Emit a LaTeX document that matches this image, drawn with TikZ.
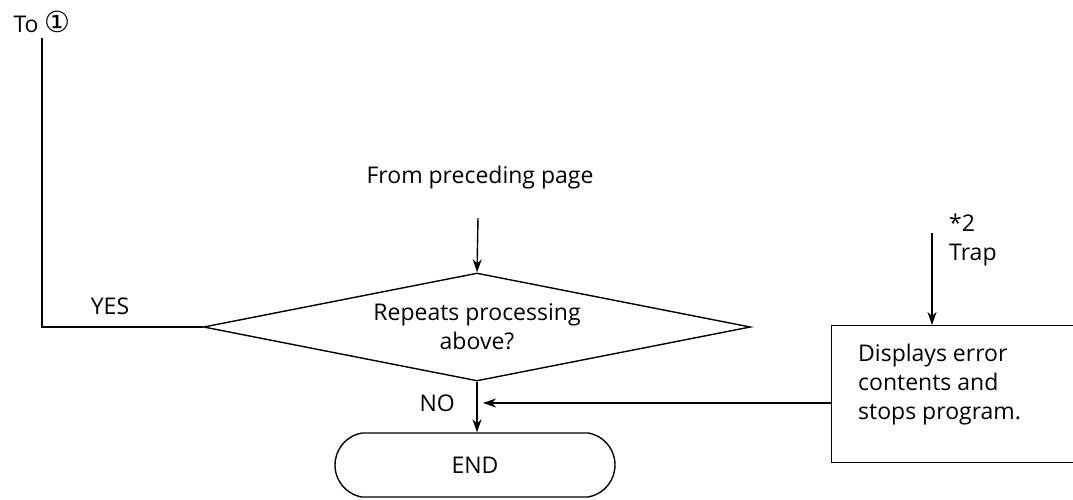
\documentclass[tikz,border=0pt]{standalone}
\usepackage{fontspec}
\setmainfont{Open Sans}
\newfontfamily\simbolos{DejaVu Sans}
\usepackage{tikz}
\usetikzlibrary{shapes.geometric,shapes.misc,arrows.meta,positioning,calc}
\tikzset{
  texto/.style={font=\fontsize{23}{29}\selectfont, inner sep=0pt},
  decisao/.style={diamond, draw, line width=1.4pt, aspect=5, inner sep=0pt,
                  minimum width=547pt, minimum height=108pt,
                  align=center, texto},
  terminal/.style={rounded rectangle, rounded rectangle arc length=160,
                   draw, line width=1.4pt, minimum width=280pt,
                   minimum height=64pt, texto},
  bloco/.style={rectangle, draw, line width=1.4pt, minimum width=290pt,
                minimum height=137pt},
  linha/.style={line width=1.4pt},
  seta/.style={-{Stealth[length=13pt,width=9pt,inset=4pt]}, line width=1.4pt},
}

\begin{document}
\begin{tikzpicture}[x=1pt, y=-1pt]
  \useasboundingbox (0,0) rectangle (1073,499);
  \node[texto] (para) at (42,22) {To {\simbolos\fontsize{29}{29}\selectfont ①}};
  \node[texto] (de) at (480,178) {From preceding page};
  \node[decisao] (dec) at (477,327) {Repeats processing\\above?};
  \node[terminal] (fim) at (475,465) {END};
  \node[bloco, anchor=north west] (erro) at (831,325) {};
  \node[texto, anchor=north west, align=left] (errotxt) at (858,344)
        {Displays error\\contents and\\stops program.};
  \node[texto, anchor=north west, align=left] (trap) at (949,214) {*2\\Trap};
  \node[texto] (sim) at (110,306) {YES};
  \node[texto, anchor=east] (nao) at (455,403) {NO};

  \coordinate (topo) at (42,38);
  \coordinate (ini) at (478,218);
  \coordinate (inierro) at (932,233);
  \coordinate (junta) at (483,403);

  % ramo YES volta para o topo
  \draw[linha] (topo) -- (topo |- dec.west) -- (dec.west);
  \draw[seta] (ini) -- (dec.north);
  \draw[seta] (dec.south) -- (dec.south |- fim.north);
  \draw[seta] (inierro) -- (inierro |- erro.north);
  \draw[seta] (erro.west |- junta) -- (junta);
\end{tikzpicture}
\end{document}
